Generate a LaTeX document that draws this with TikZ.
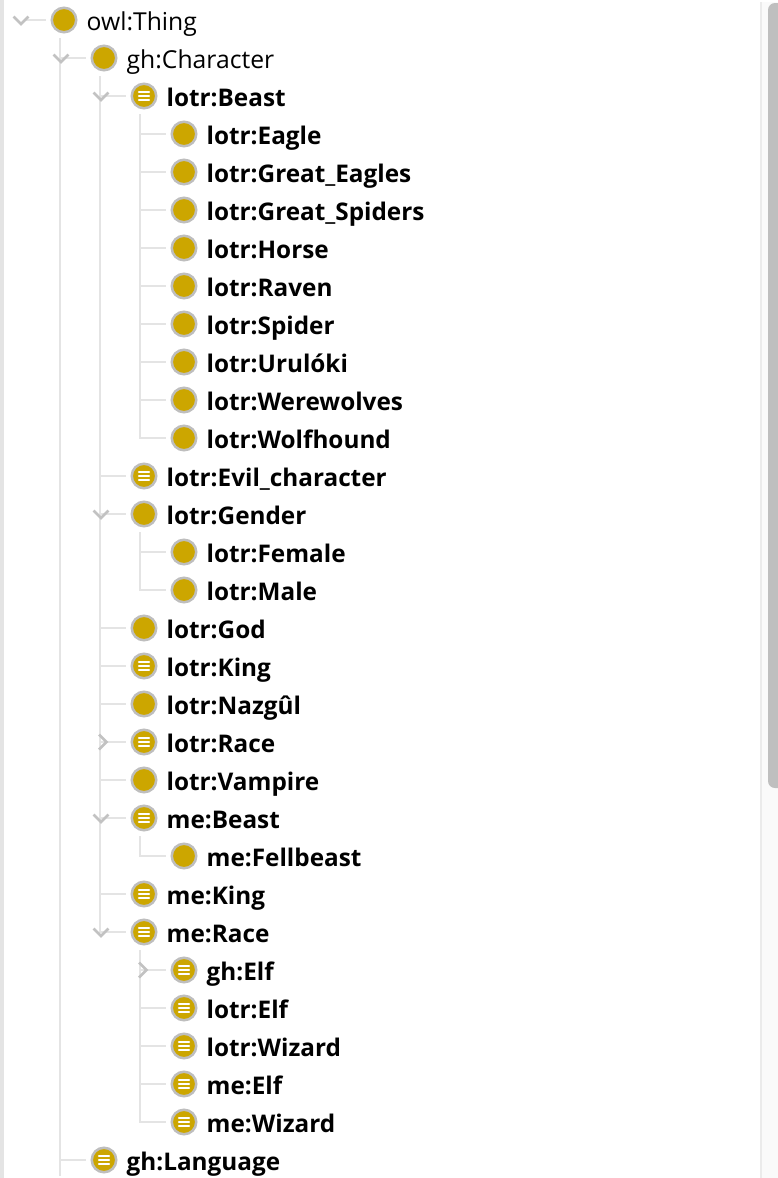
\documentclass[tikz,border=0pt]{standalone}
\usepackage{fontspec}
\setmainfont{Open Sans}
\usetikzlibrary{positioning}
\definecolor{owlgold}{HTML}{CCA600}
\definecolor{ringgray}{HTML}{BEBEBE}
\definecolor{linegray}{HTML}{E4E4E4}
\definecolor{chevgray}{HTML}{C2C2C2}
\tikzset{
    classdot/.style={circle, fill=owlgold, draw=ringgray, line width=2.5pt, inner sep=0pt, minimum size=24.5pt},
    defdot/.style={classdot, path picture={
        \foreach \dy in {-4,0,4}
            \draw[white, line width=1.8pt, line cap=round] ([xshift=-5.2pt,yshift=\dy pt]path picture bounding box.center) -- ++(10.4pt,0);
    }},
    treeline/.style={draw=linegray, line width=2pt, shorten <=4.5pt, shorten >=4.5pt},
    chevron/.style={draw=chevgray, line width=2.5pt},
    plainlabel/.style={inner sep=0pt, text height=26pt, text depth=6pt, font=\fontsize{24.7}{28}\selectfont},
    boldlabel/.style={plainlabel, font=\fontsize{24.3}{28}\selectfont\bfseries}
}
\begin{document}
\begin{tikzpicture}[x=1pt, y=-1pt]
    \useasboundingbox (0,0) rectangle (778,1178);

    % Window edge and scrollbar
    \fill[linegray] (0,0) rectangle (3.5,1178);
    \fill[black!2] (761,2) rectangle (778,1178);
    \fill[black!8] (760,2) rectangle (762,1178);
    \fill[black!25, rounded corners=7pt] (768,3) rectangle (790,788);

    % Tree rows: name/kind of dot/label style/x/y/text
    \foreach \id/\dot/\lab/\x/\y/\txt in {
        thing/classdot/plainlabel/64/20/owl:Thing,
        character/classdot/plainlabel/104/58/gh:Character,
        beast/defdot/boldlabel/144/96/lotr:Beast,
        eagle/classdot/boldlabel/184/134/lotr:Eagle,
        greateagles/classdot/boldlabel/184/172/lotr:Great\_Eagles,
        greatspiders/classdot/boldlabel/184/210/lotr:Great\_Spiders,
        horse/classdot/boldlabel/184/248/lotr:Horse,
        raven/classdot/boldlabel/184/286/lotr:Raven,
        spider/classdot/boldlabel/184/324/lotr:Spider,
        uruloki/classdot/boldlabel/184/362/lotr:Urulóki,
        werewolves/classdot/boldlabel/184/400/lotr:Werewolves,
        wolfhound/classdot/boldlabel/184/438/lotr:Wolfhound,
        evil/defdot/boldlabel/144/476/lotr:Evil\_character,
        gender/classdot/boldlabel/144/514/lotr:Gender,
        female/classdot/boldlabel/184/552/lotr:Female,
        male/classdot/boldlabel/184/590/lotr:Male,
        god/classdot/boldlabel/144/628/lotr:God,
        king/defdot/boldlabel/144/666/lotr:King,
        nazgul/classdot/boldlabel/144/704/lotr:Nazgûl,
        race/defdot/boldlabel/144/742/lotr:Race,
        vampire/classdot/boldlabel/144/780/lotr:Vampire,
        mebeast/defdot/boldlabel/144/818/me:Beast,
        fellbeast/classdot/boldlabel/184/856/me:Fellbeast,
        meking/defdot/boldlabel/144/894/me:King,
        merace/defdot/boldlabel/144/932/me:Race,
        ghelf/defdot/boldlabel/184/970/gh:Elf,
        lotrelf/defdot/boldlabel/184/1008/lotr:Elf,
        lotrwizard/defdot/boldlabel/184/1046/lotr:Wizard,
        meelf/defdot/boldlabel/184/1084/me:Elf,
        mewizard/defdot/boldlabel/184/1122/me:Wizard,
        language/defdot/boldlabel/104/1160/gh:Language%
    }{
        \node[\dot] (\id) at (\x,\y) {};
        \node[\lab, anchor=west, right=9pt of \id] (\id-text) {\txt};
    }

    % Free ends
    \coordinate (rootstub) at (25,20);
    \coordinate (bottomend) at (60,1176);

    % Connectors
    \draw[treeline, shorten <=0pt] (rootstub) -- (thing.west);
    \draw[treeline, shorten >=0pt] ([xshift=-4pt]thing.south) -- (bottomend);
    \foreach \parent/\child in {
        thing/character, thing/language,
        character/beast, character/evil, character/gender, character/god, character/king,
        character/nazgul, character/race, character/vampire, character/mebeast, character/meking, character/merace,
        beast/eagle, beast/greateagles, beast/greatspiders, beast/horse, beast/raven,
        beast/spider, beast/uruloki, beast/werewolves, beast/wolfhound,
        gender/female, gender/male,
        mebeast/fellbeast,
        merace/ghelf, merace/lotrelf, merace/lotrwizard, merace/meelf, merace/mewizard%
    }{
        \draw[treeline] ([xshift=-4pt]\parent.south) |- (\child.west);
    }

    % Open and closed chevrons
    \foreach \cx/\cy in {21/20, 61/58, 101/96, 101/514, 101/818, 101/932}
        \draw[chevron] (\cx-7.5,\cy-3.5) -- (\cx,\cy+4) -- (\cx+7.5,\cy-3.5);
    \foreach \cx/\cy in {103/742, 143/970}
        \draw[chevron] (\cx-4,\cy-7.5) -- (\cx+3.5,\cy) -- (\cx-4,\cy+7.5);
\end{tikzpicture}
\end{document}
